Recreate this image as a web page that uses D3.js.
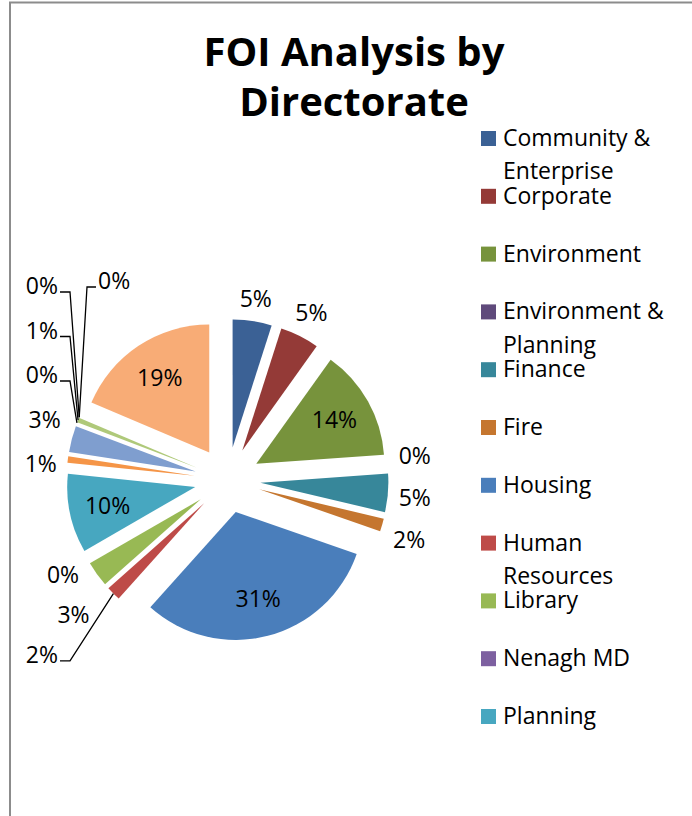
<!DOCTYPE html>
<html><head><meta charset="utf-8">
<script src="https://cdn.jsdelivr.net/npm/d3@7"></script>
<style>html,body{margin:0;padding:0;background:#fff;} svg{display:block}</style>
</head><body>
<svg id="chart" width="692" height="816"></svg>
<script>
// ---- data ----
const categories = ["Community & Enterprise","Corporate","Environment","Environment & Planning","Finance","Fire","Housing","Human Resources","Library","Nenagh MD","Planning","Property","Roads","Sport","Thurles MD","Tourism","Veterinary","Water Services"];
const values = [4.9,4.9,13.9,0,4.8,1.6,31.1,1.8,3.2,0,9.9,0.8,3.3,0,0.6,0,0,18.5];
const colors = ["#3B6195","#943A37","#77933C","#5F4A7B","#37879A","#C5762F","#4A7EBB","#BE4B48","#98B954","#7D60A0","#47A7C0","#F59547","#7F9ECF","#CF7B79","#AFC97A","#9D87BA","#6FBFD5","#F8AC76"];
const titleLines = ["FOI Analysis by","Directorate"];

const data = categories.map((c,i)=>({name:c, value:values[i], color:colors[i]}));
const svg = d3.select("#chart");
const FONT = "'Open Sans', 'Noto Sans', sans-serif";

// frame
svg.append("rect").attr("x",10).attr("y",2.5).attr("width",720).attr("height",900)
  .attr("fill","none").attr("stroke","#8c8c8c").attr("stroke-width",2);

// title
svg.append("g").selectAll("text").data(titleLines).join("text")
  .attr("x",354).attr("y",(d,i)=>66+i*49.5)
  .attr("text-anchor","middle").attr("font-family",FONT).attr("font-weight","bold")
  .attr("font-size",40).attr("fill","#000").text(d=>d);

// pie
const cx=227.5, cy=480, R=128, EXP=33;
const total = d3.sum(values);
const pie = d3.pie().sort(null).value(d=>d.value).startAngle(0).endAngle(2*Math.PI);
const arcs = pie(data);
const arc = d3.arc().innerRadius(0).outerRadius(R);
arcs.forEach(a=>{ const m=(a.startAngle+a.endAngle)/2; a.mid=m; a.dx=Math.sin(m); a.dy=-Math.cos(m); });

svg.append("g").selectAll("path").data(arcs.filter(a=>a.data.value>0)).join("path")
  .attr("transform",a=>`translate(${cx+a.dx*EXP},${cy+a.dy*EXP})`)
  .attr("d",arc).attr("fill",a=>a.data.color);

// labels
const fmt = d3.format(".0%");
const LFS = 23;
const labG = svg.append("g");
const labels = arcs.map(a=>{
  const t = labG.append("text").attr("font-family",FONT).attr("font-size",LFS)
    .attr("text-anchor","middle").attr("dy","0.36em").attr("fill","#000")
    .text(fmt(a.data.value/total));
  const w = t.node().getComputedTextLength();
  const pct = a.data.value/total;
  const L = {a, t, w, h:20, inside: pct>=0.09};
  if (L.inside) {
    L.x = cx + a.dx*(EXP+0.7*R); L.y = cy + a.dy*(EXP+0.7*R);
  } else {
    const d = R+EXP+10 + (w/2)*Math.abs(a.dx) + (L.h/2)*Math.abs(a.dy);
    L.x = cx + a.dx*d; L.y = cy + a.dy*d;
  }
  L.nx=L.x; L.ny=L.y;
  L.ax = cx + a.dx*(R+EXP); L.ay = cy + a.dy*(R+EXP);
  return L;
});
const outside = labels.filter(l=>!l.inside);
const S = 42, minY = 286, colRight = 58;

// right-side cluster: symmetric relaxation
const rightC = outside.filter(l=>l.a.mid>Math.PI/4 && l.a.mid<Math.PI).sort((p,q)=>p.y-q.y);
for (let it=0; it<50; it++) {
  for (let i=1;i<rightC.length;i++){
    const p=rightC[i-1], q=rightC[i];
    const gap=q.y-p.y;
    if (gap<S){ const d=(S-gap)/2; p.y-=d; q.y+=d; }
  }
}
// upper-left cluster: stack upward
const ul = outside.filter(l=>l.a.mid>1.5*Math.PI).sort((p,q)=>p.a.mid-q.a.mid);
const stacked=[], overflow=[];
ul.forEach((l,i)=>{
  if (i===0) { stacked.push(l); return; }
  const prev = stacked[stacked.length-1];
  const y = Math.min(l.ny, prev.y - 44.5);
  if (y < minY - 30) overflow.push(l); else { l.y=y; stacked.push(l); }
});
const topLab = stacked[stacked.length-1];
if (topLab && topLab.y < minY) { const sh=minY-topLab.y; stacked.forEach(l=>l.y+=sh); }
overflow.forEach((l,i)=>{
  l.y = topLab.y - 5; l.x = colRight + 40 + l.w/2 + i*(l.w+20); l.overflow=true;
});
// lower-left cluster: stack downward
const ll = outside.filter(l=>l.a.mid>Math.PI && l.a.mid<1.5*Math.PI).sort((p,q)=>q.a.mid-p.a.mid);
ll.forEach((l,i)=>{ if(i>0){ l.y=Math.max(l.ny, ll[i-1].y+S-2); } });

// leaders + column placement
const leaders=[];
outside.forEach(l=>{
  const push=Math.abs(l.y-l.ny);
  if (l.overflow) {
    const sx=l.x-l.w/2-2, sy=l.y+6;
    leaders.push([[sx,sy],[sx-9,sy],[l.ax,l.ay]]);
  } else if (push>30 && l.a.dx<0) {
    l.x = colRight - l.w/2;
    const sx=colRight+2, sy=l.y+6;
    leaders.push([[sx,sy],[sx+10,sy],[l.ax,l.ay]]);
  }
});
labels.forEach(l=>l.t.attr("x",l.x).attr("y",l.y));
svg.append("g").selectAll("path").data(leaders).join("path")
  .attr("d",d=>d3.line()(d)).attr("fill","none").attr("stroke","#000").attr("stroke-width",1.3);

// legend (truncated when out of room, like the source)
const lg = svg.append("g");
const maxW = 178, lx=481, tx=503, base0=146, step=57.8, lh=33.3, bottom=770;
const meas = lg.append("text").attr("font-family",FONT).attr("font-size",LFS);
function wrap(s){
  const words=s.split(" "); const lines=[]; let cur="";
  words.forEach(w=>{ const t=cur?cur+" "+w:w; meas.text(t);
    if (meas.node().getComputedTextLength()>maxW && cur){ lines.push(cur); cur=w; } else cur=t; });
  if(cur) lines.push(cur); return lines;
}
data.forEach((d,i)=>{
  const b = base0 + i*step;
  if (b > bottom) return;
  lg.append("rect").attr("x",lx).attr("y",b-15).attr("width",15).attr("height",15).attr("fill",d.color);
  const lines = wrap(d.name);
  const t = lg.append("text").attr("font-family",FONT).attr("font-size",LFS).attr("fill","#000");
  lines.forEach((ln,j)=> t.append("tspan").attr("x",tx).attr("y",b+j*lh).text(ln));
});
meas.remove();
</script>
</body></html>
